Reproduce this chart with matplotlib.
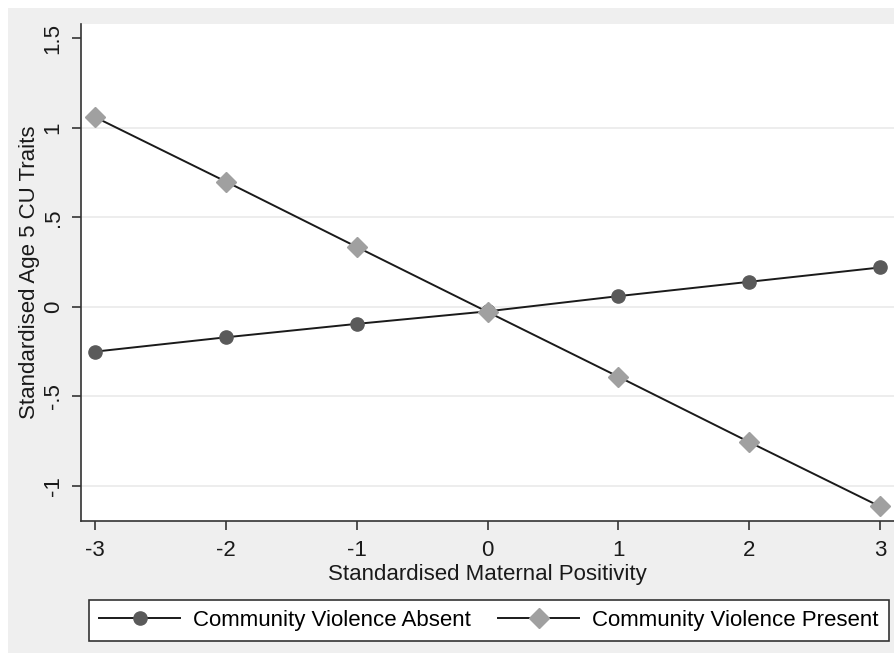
import numpy as np
import matplotlib
matplotlib.use("Agg")
import matplotlib.pyplot as plt
from matplotlib.patches import Rectangle

plt.rcParams['font.family'] = ['Liberation Sans', 'DejaVu Sans']

# values
positivity = [-3, -2, -1, 0, 1, 2, 3]
cv_absent = [-0.25, -0.17, -0.095, -0.025, 0.06, 0.14, 0.22]
cv_present = [1.06, 0.70, 0.335, -0.028, -0.39, -0.755, -1.115]
y_ticks = [-1, -0.5, 0, 0.5, 1, 1.5]
y_tick_labels = ["-1", "-.5", "0", ".5", "1", "1.5"]

W, H = 894, 653
fig = plt.figure(figsize=(W / 100, H / 100), dpi=100)
fig.patch.set_facecolor("white")
# Stata style grey backdrop
fig.add_artist(Rectangle((8 / W, 0), 1 - 8 / W, 1 - 8 / H, transform=fig.transFigure,
                         facecolor="#efefef", edgecolor="none", zorder=0))

ax = fig.add_axes([81 / W, 1 - 521 / H, 1 - 81 / W, (521 - 24) / H])
ax.set_facecolor("white")

for yv in [-1, -0.5, 0, 0.5, 1]:
    ax.axhline(yv, color="#eaeaea", lw=1.2, zorder=1)

ax.plot(positivity, cv_absent, color="#1a1a1a", lw=1.4, marker="o", ms=9.5,
        mfc="#5a5a5a", mec="#5a5a5a", label="Community Violence Absent", zorder=3)
ax.plot(positivity, cv_present, color="#1a1a1a", lw=1.4, marker="D", ms=10.5,
        mfc="#a0a0a0", mec="#a0a0a0", label="Community Violence Present", zorder=3)

ax.set_xlim(-3.107, 3.107)
ax.set_ylim(-1.196, 1.58)
ax.set_xticks(positivity)
ax.set_xticklabels([str(v) for v in positivity])
ax.set_yticks(y_ticks)
ax.set_yticklabels(y_tick_labels, rotation=90, va="center")

for s in ["top", "right"]:
    ax.spines[s].set_visible(False)
for s in ["left", "bottom"]:
    ax.spines[s].set_color("#333333")
    ax.spines[s].set_linewidth(1.2)
ax.tick_params(direction="out", length=6.5, width=1.2, color="#333333",
               labelsize=16, labelcolor="#1a1a1a")
ax.tick_params(axis="x", pad=7)
ax.tick_params(axis="y", pad=6)

ax.set_xlabel("Standardised Maternal Positivity", fontsize=16, color="#1a1a1a", labelpad=2)
ax.set_ylabel("Standardised Age 5 CU Traits", fontsize=16, color="#1a1a1a", labelpad=2)

handles, labels = ax.get_legend_handles_labels()
leg = fig.legend(handles, labels, loc="lower left", ncol=2,
                 bbox_to_anchor=(89 / W, 12 / H),
                 frameon=True, fancybox=False, edgecolor="#333333", fontsize=16,
                 handlelength=3.65, handletextpad=0.6, columnspacing=1.2,
                 borderpad=0.45, borderaxespad=0, framealpha=1)
leg.get_frame().set_linewidth(1.2)

fig.savefig("out.png", dpi=100, facecolor=fig.get_facecolor())
